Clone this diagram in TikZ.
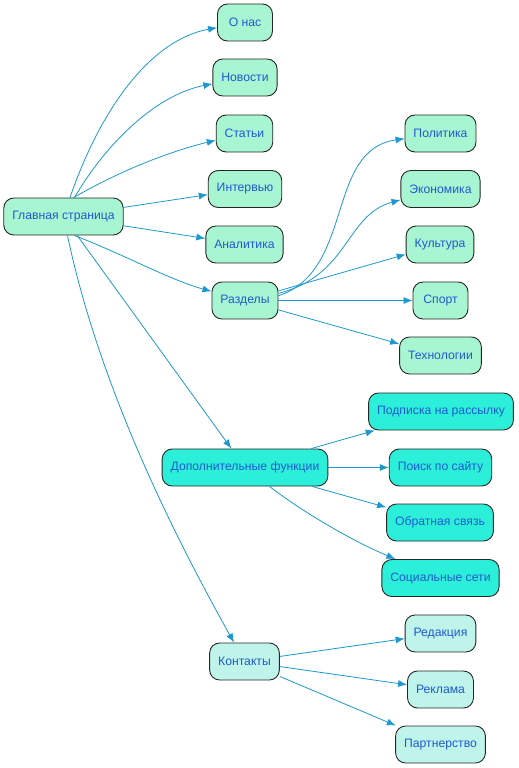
\documentclass[tikz,border=0pt]{standalone}
\usepackage{fontspec}
\setmainfont{Liberation Sans}
\usetikzlibrary{arrows.meta}
\definecolor{fillA}{HTML}{A8F5D2}
\definecolor{fillB}{HTML}{2CEFDA}
\definecolor{fillC}{HTML}{BFF4EA}
\definecolor{txt}{HTML}{1E5AD2}
\definecolor{edge}{HTML}{1C98CE}
\tikzset{
  box/.style={draw=black!85, line width=0.9pt, rounded corners=10pt, minimum height=37pt,
    minimum width=55pt, inner xsep=8.5pt, text=txt, font=\fontsize{12.2}{13}\selectfont},
  boxA/.style={box, fill=fillA},
  boxB/.style={box, fill=fillB},
  boxC/.style={box, fill=fillC},
  link/.style={draw=edge, line width=0.8pt, -{Latex[length=9pt,width=7pt]}},
}
\begin{document}
\begin{tikzpicture}[x=1pt,y=-1pt]
\useasboundingbox (0,0) rectangle (519,768);
\node[boxA] (main) at (63.5,216.5) {Главная страница};
\node[boxA] (onas) at (245,22.5) {О нас};
\node[boxA] (news) at (245,77.5) {Новости};
\node[boxA] (art) at (244.5,133.5) {Статьи};
\node[boxA] (int) at (245,189) {Интервью};
\node[boxA] (anal) at (244.5,244.5) {Аналитика};
\node[boxA] (razd) at (245,300.5) {Разделы};
\node[boxA] (pol) at (440.5,133.5) {Политика};
\node[boxA] (eco) at (440.5,189) {Экономика};
\node[boxA] (cult) at (440,244.5) {Культура};
\node[boxA] (sport) at (440.5,300.5) {Спорт};
\node[boxA] (tech) at (440.5,355.5) {Технологии};
\node[boxB] (dop) at (245,467.5) {Дополнительные функции};
\node[boxB] (sub) at (441,411.5) {Подписка на рассылку};
\node[boxB] (search) at (440.5,467.5) {Поиск по сайту};
\node[boxB] (fb) at (440,522.5) {Обратная связь};
\node[boxB] (soc) at (440.5,578) {Социальные сети};
\node[boxC] (cont) at (244.5,661.5) {Контакты};
\node[boxC] (red) at (440.5,633.5) {Редакция};
\node[boxC] (adv) at (440.5,689.5) {Реклама};
\node[boxC] (part) at (440.5,744.5) {Партнерство};

\draw[link] (main) .. controls (100,110) and (150,40) .. (onas);
\draw[link] (main) .. controls (105,145) and (155,95) .. (news);
\draw[link] (main.62) .. controls (125,168) and (175,150) .. (art);
\draw[link] (main) -- (int);
\draw[link] (main) -- (anal);
\draw[link] (main.-60) .. controls (125,255) and (170,280) .. (razd);
\draw[link] (main) -- (dop);
\draw[link] (main) .. controls (102,400) and (188,560) .. (cont);

\draw[link] (razd.8) .. controls (355,270) and (325,150) .. (pol);
\draw[link] (razd.12) .. controls (350,275) and (345,215) .. (eco);
\draw[link] (razd) -- (cult);
\draw[link] (razd) -- (sport);
\draw[link] (razd) -- (tech);

\draw[link] (dop) -- (sub);
\draw[link] (dop) -- (search);
\draw[link] (dop) -- (fb);
\draw[link] (dop) .. controls (300,510) and (350,540) .. (soc);

\draw[link] (cont) -- (red);
\draw[link] (cont) -- (adv);
\draw[link] (cont) -- (part);
\end{tikzpicture}
\end{document}
